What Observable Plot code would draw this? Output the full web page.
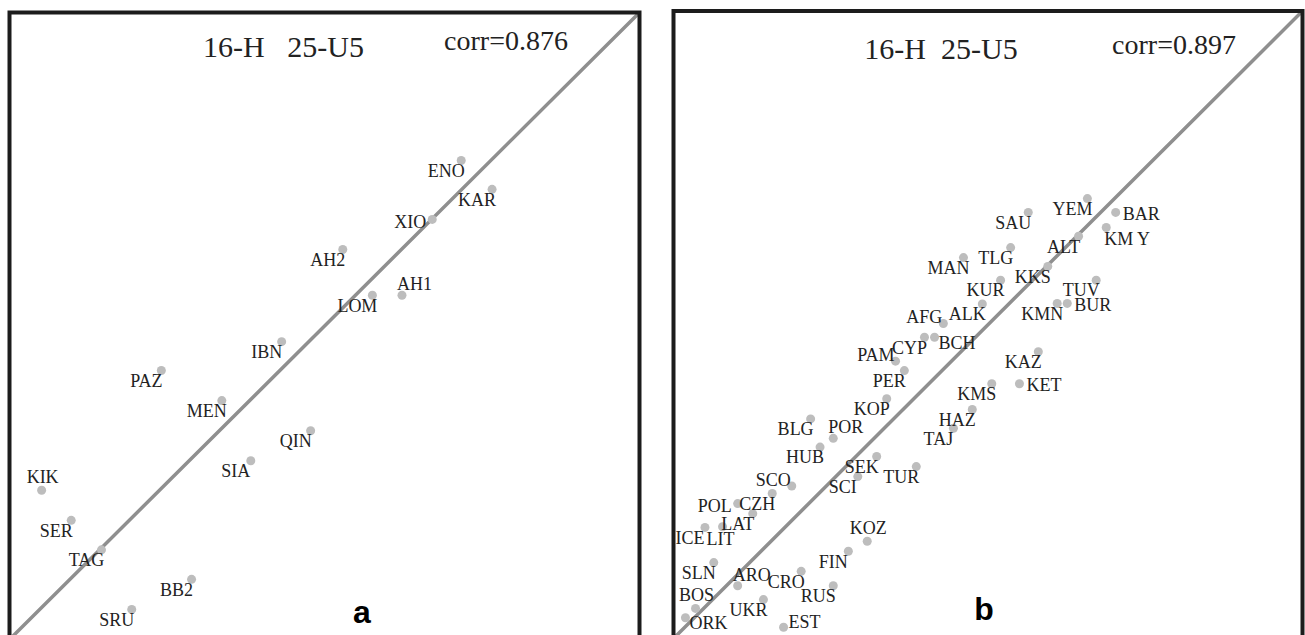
<!DOCTYPE html>
<html>
<head>
<meta charset="utf-8">
<script src="https://cdn.jsdelivr.net/npm/d3@7"></script>
<script src="https://cdn.jsdelivr.net/npm/@observablehq/plot@0.6"></script>
<style>
  html, body { margin: 0; padding: 0; background: #fff; overflow: hidden; }
  #wrap { position: relative; width: 1305px; height: 635px; overflow: hidden; }
  .panel { position: absolute; top: 0; }
  svg text { white-space: pre; }
</style>
</head>
<body>
<div id="wrap"></div>
<script>
// ---- Panel a: 16-H vs 25-U5 ----
const titleA = "16-H   25-U5";
const corrA = 0.876;
const popsA = ["ENO", "KAR", "XIO", "AH2", "AH1", "LOM", "IBN", "PAZ", "MEN", "QIN", "SIA", "KIK", "SER", "TAG", "BB2", "SRU"];
const xA    = [0.717, 0.766, 0.671, 0.529, 0.623, 0.576, 0.432, 0.241, 0.337, 0.478, 0.383, 0.051, 0.098, 0.146, 0.289, 0.194];
const yA    = [0.764, 0.718, 0.670, 0.622, 0.549, 0.549, 0.475, 0.429, 0.381, 0.333, 0.285, 0.238, 0.190, 0.143, 0.096, 0.048];
const sideA = ["sw", "sw", "w", "sw", "ne", "sw", "sw", "sw", "sw", "sw", "sw", "n", "sw", "sw", "sw", "sw"];

// ---- Panel b: 16-H vs 25-U5 ----
const titleB = "16-H  25-U5";
const corrB = 0.897;
const popsB = ["YEM", "SAU", "BAR", "KM Y", "ALT", "TLG", "MAN", "KKS", "KUR", "TUV", "KMN", "BUR", "ALK", "AFG",
               "CYP", "BCH", "PAM", "PER", "KAZ", "KMS", "KET", "KOP", "HAZ", "BLG", "POR", "TAJ", "HUB", "SEK",
               "TUR", "SCI", "SCO", "CZH", "POL", "LAT", "ICE", "LIT", "KOZ", "FIN", "SLN", "ARO", "CRO", "RUS",
               "BOS", "UKR", "ORK", "EST"];
const xB    = [0.658, 0.564, 0.703, 0.688, 0.644, 0.536, 0.461, 0.595, 0.520, 0.672, 0.610, 0.626, 0.491, 0.429,
               0.399, 0.415, 0.353, 0.367, 0.580, 0.506, 0.550, 0.339, 0.475, 0.218, 0.254, 0.445, 0.233, 0.323,
               0.386, 0.293, 0.188, 0.157, 0.102, 0.126, 0.050, 0.078, 0.308, 0.278, 0.064, 0.102, 0.203, 0.254,
               0.035, 0.143, 0.019, 0.175];
const yB    = [0.701, 0.679, 0.679, 0.655, 0.641, 0.623, 0.607, 0.593, 0.571, 0.571, 0.534, 0.534, 0.533, 0.502,
               0.480, 0.480, 0.442, 0.427, 0.457, 0.406, 0.406, 0.382, 0.365, 0.350, 0.319, 0.335, 0.305, 0.290,
               0.274, 0.258, 0.243, 0.231, 0.215, 0.199, 0.177, 0.178, 0.155, 0.139, 0.121, 0.084, 0.107, 0.084,
               0.048, 0.062, 0.033, 0.018];
const sideB = ["sw", "sw", "e", "se", "sw", "sw", "sw", "sw", "sw", "sw", "sw", "e", "sw", "nw",
               "sw", "ese", "nw", "sw", "sw", "sw", "e", "sw", "sw", "sw", "ne", "sw", "sw", "sw",
               "sw", "sw", "nw", "sw", "w", "sw", "sw", "s", "n", "sw", "sw", "ne", "sw", "sw",
               "n", "sw", "ese", "ene"];

// reference line y = x across the whole panel
const diagonal = [0, 1];

// where each population name sits relative to its dot
const placement = {
  sw:  {dx: -15, dy: 10.5, anchor: "middle"},
  w:   {dx: -6,  dy: 3,    anchor: "end"},
  nw:  {dx: -1,  dy: -6,   anchor: "end"},
  e:   {dx: 7,   dy: 1.5,  anchor: "start"},
  ese: {dx: 4,   dy: 5.5,  anchor: "start"},
  ene: {dx: 5,   dy: -5,   anchor: "start"},
  ne:  {dx: -5,  dy: -11,  anchor: "start"},
  n:   {dx: 1,   dy: -13,  anchor: "middle"},
  s:   {dx: -2,  dy: 12,   anchor: "middle"},
  se:  {dx: -2,  dy: 12,   anchor: "start"}
};

const serif = "'Liberation Serif', 'Times New Roman', serif";
const sans = "'Liberation Sans', Arial, sans-serif";

function panel({names, xs, ys, sides, title, corr, letter, left, margin, titleAt, corrAt, letterAt}) {
  const rows = names.map((name, i) => ({name, x: xs[i], y: ys[i], side: sides[i]}));
  const labelMarks = Array.from(d3.group(rows, d => d.side), ([side, rs]) => {
    const p = placement[side];
    return Plot.text(rs, {
      x: "x", y: "y", text: "name",
      dx: p.dx, dy: p.dy, textAnchor: p.anchor,
      fontSize: 18, fontFamily: serif, fill: "#222", clip: true
    });
  });
  const chart = Plot.plot({
    width: 650,
    height: 645,
    marginLeft: margin.left,
    marginRight: margin.right,
    marginTop: margin.top,
    marginBottom: margin.bottom,
    x: {domain: [0, 1], axis: null},
    y: {domain: [0, 1], axis: null},
    style: {background: "transparent", fontFamily: serif, overflow: "visible"},
    marks: [
      Plot.line(diagonal, {x: d => d, y: d => d, stroke: "#8f8f8f", strokeWidth: 3.5, clip: true}),
      Plot.dot(rows, {x: "x", y: "y", r: 4.5, fill: "#bdbdbd", stroke: null}),
      ...labelMarks,
      Plot.text([title], {frameAnchor: "top-left", dx: titleAt[0], dy: titleAt[1], textAnchor: "middle",
        lineAnchor: "bottom", fontSize: 30, fontFamily: serif, fill: "#222"}),
      Plot.text([`corr=${corr.toFixed(3)}`], {frameAnchor: "top-left", dx: corrAt[0], dy: corrAt[1], textAnchor: "middle",
        lineAnchor: "bottom", fontSize: 28, fontFamily: serif, fill: "#222"}),
      Plot.text([letter], {frameAnchor: "top-left", dx: letterAt[0], dy: letterAt[1], textAnchor: "middle",
        lineAnchor: "bottom", fontSize: 32, fontWeight: "bold", fontFamily: sans, fill: "#000"}),
      Plot.frame({stroke: "#1c1c1c", strokeWidth: 4})
    ]
  });
  chart.classList.add("panel");
  chart.style.left = left + "px";
  return chart;
}

const wrap = document.getElementById("wrap");
wrap.appendChild(panel({
  names: popsA, xs: xA, ys: yA, sides: sideA, title: titleA, corr: corrA, letter: "a",
  left: 0, margin: {left: 9, right: 11, top: 12, bottom: 6},
  titleAt: [274, 44], corrAt: [496.5, 37], letterAt: [352.5, 610]
}));
wrap.appendChild(panel({
  names: popsB, xs: xB, ys: yB, sides: sideB, title: titleB, corr: corrB, letter: "b",
  left: 655, margin: {left: 18, right: 3, top: 10.5, bottom: 7},
  titleAt: [267.5, 47.5], corrAt: [500.5, 42.5], letterAt: [310.5, 608.5]
}));
</script>
</body>
</html>
